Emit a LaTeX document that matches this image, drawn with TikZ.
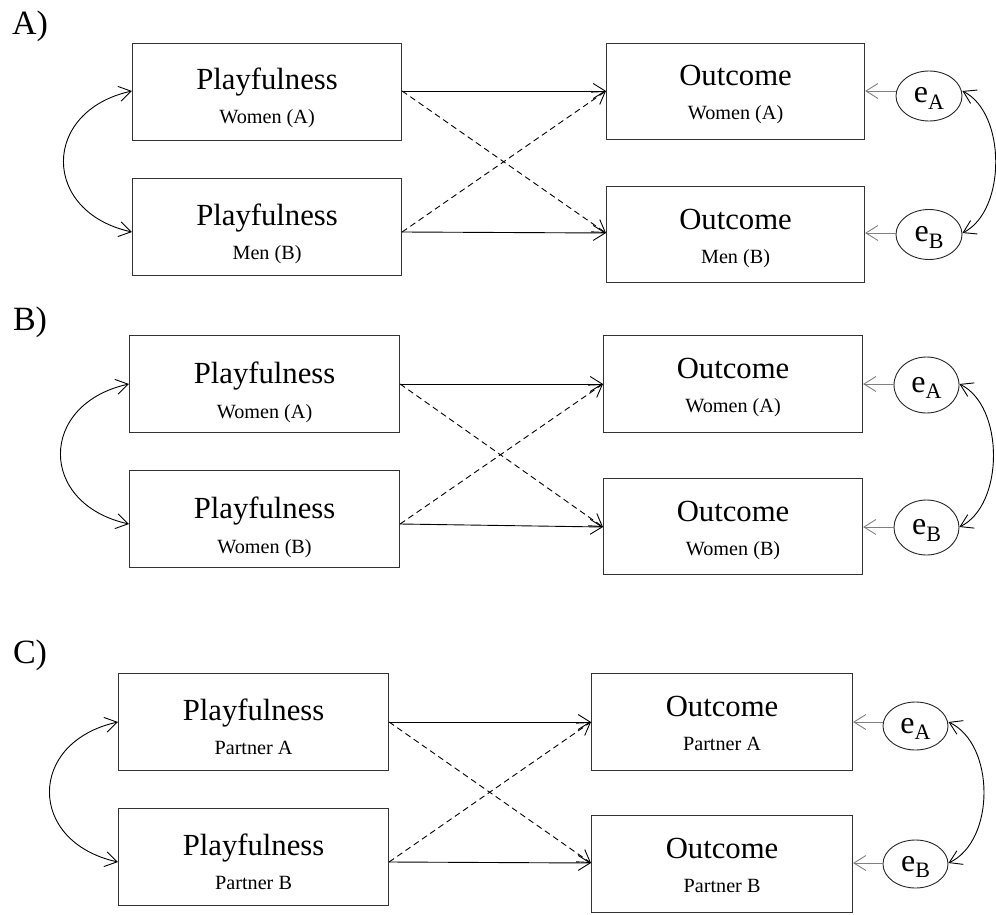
\documentclass[tikz,border=0pt]{standalone}
\usepackage{fontspec}
\setmainfont{Liberation Serif}
\usetikzlibrary{arrows.meta,shapes.geometric,calc}
\tikzset{
  boxst/.style={draw=black!80, line width=1.1pt, inner sep=0pt},
  maintext/.style={font=\fontsize{30.7}{30.7}\selectfont, inner sep=0pt},
  subtext/.style={font=\fontsize{20.2}{20.2}\selectfont, inner sep=0pt},
  ebox/.style={ellipse, draw=black!85, line width=0.9pt, inner sep=0pt,
    text height=14pt, text depth=0pt, font=\fontsize{32}{32}\selectfont},
  conn/.style={line width=0.9pt, black, -{Straight Barb[length=12pt,width=15pt]}},
  dconn/.style={conn, dash pattern=on 6pt off 4pt},
  econn/.style={conn, black!50},
  dbl/.style={line width=0.9pt, {Straight Barb[length=12pt,width=15pt]}-{Straight Barb[length=12pt,width=15pt]}},
  plabel/.style={font=\fontsize{34}{34}\selectfont, inner sep=0pt},
}
\newcommand\mkbox[9]{%
  \node[boxst, minimum width=#4pt, minimum height=#5pt, anchor=north west] (#1) at (#2,#3) {};
  \node[maintext, anchor=base] (#1m) at ([yshift=-#6pt]#1.north) {#8};
  \node[subtext, anchor=base] (#1s) at ([yshift=-#7pt]#1.north) {#9};
}
\newcommand\mkport[2]{%
  \coordinate (#1w) at ([yshift=-#2pt]#1.north west);
  \coordinate (#1e) at ([yshift=-#2pt]#1.north east);
}
\newcommand\mkconn[7]{%
  \draw[conn] (#1e) -- (#3w);
  \draw[conn] (#2e) -- (#4w);
  \draw[dconn] (#1e) -- (#4w);
  \draw[dconn] (#2e) -- (#3w);
  \coordinate (#5l) at (#3e -| #5.west);
  \coordinate (#6l) at (#4e -| #6.west);
  \coordinate (#5r) at (#3e -| #5.east);
  \coordinate (#6r) at (#4e -| #6.east);
  \draw[econn] (#5l) -- (#3e);
  \draw[econn] (#6l) -- (#4e);
  \draw[dbl] (#1w) .. controls ([xshift=-91pt,yshift=-20pt]#1w) and ([xshift=-91pt,yshift=20pt]#2w) .. (#2w);
  \draw[dbl] (#5r) .. controls ([xshift=#7pt,yshift=-22pt]#5r) and ([xshift=#7pt,yshift=22pt]#6r) .. (#6r);
}
\newcommand\esub[1]{e\raisebox{-6.5pt}{\fontsize{22}{22}\selectfont #1}}
\begin{document}
\begin{tikzpicture}[x=1pt,y=-1pt]
\useasboundingbox (0,0) rectangle (996,915);

% ---------- Panel A ----------
\node[plabel] (labA) at (30,26) {A)};
\mkbox{PA1}{132}{43}{269}{97}{47}{81}{Playfulness}{Women (A)}
\mkbox{PA2}{132}{178}{269}{97}{47}{81}{Playfulness}{Men (B)}
\mkbox{OA1}{606}{43}{258}{96}{43}{77}{Outcome}{Women (A)}
\mkbox{OA2}{606}{186}{258}{96}{43}{77}{Outcome}{Men (B)}
\node[ebox, minimum width=66pt, minimum height=50pt] (eA1) at (929,96) {\esub{A}};
\node[ebox, minimum width=66pt, minimum height=50pt] (eB1) at (929,234.5) {\esub{B}};
\mkport{PA1}{48}\mkport{PA2}{54}\mkport{OA1}{48}\mkport{OA2}{47}
\mkconn{PA1}{PA2}{OA1}{OA2}{eA1}{eB1}{44}

% ---------- Panel B ----------
\node[plabel] (labB) at (30,322) {B)};
\mkbox{PB1}{129}{335}{270}{97}{48}{83}{Playfulness}{Women (A)}
\mkbox{PB2}{129}{470}{270}{97}{48}{83}{Playfulness}{Women (B)}
\mkbox{OB1}{603}{335}{259}{97}{43}{77}{Outcome}{Women (A)}
\mkbox{OB2}{603}{478}{259}{96}{43}{77}{Outcome}{Women (B)}
\node[ebox, minimum width=65pt, minimum height=56pt] (eA2) at (926.5,385) {\esub{A}};
\node[ebox, minimum width=65pt, minimum height=55pt] (eB2) at (926.5,527.5) {\esub{B}};
\mkport{PB1}{49}\mkport{PB2}{54}\mkport{OB1}{49}\mkport{OB2}{49}
\mkconn{PB1}{PB2}{OB1}{OB2}{eA2}{eB2}{45}

% ---------- Panel C ----------
\node[plabel] (labC) at (30,655) {C)};
\mkbox{PC1}{118}{673}{270}{97}{47}{81}{Playfulness}{Partner A}
\mkbox{PC2}{118}{808}{270}{97}{47}{81}{Playfulness}{Partner B}
\mkbox{OC1}{591}{673}{261}{97}{43}{77}{Outcome}{Partner A}
\mkbox{OC2}{591}{815}{261}{97}{43}{77}{Outcome}{Partner B}
\node[ebox, minimum width=65pt, minimum height=48pt] (eA3) at (915.5,726) {\esub{A}};
\node[ebox, minimum width=65pt, minimum height=48pt] (eB3) at (915.5,864) {\esub{B}};
\mkport{PC1}{49}\mkport{PC2}{54}\mkport{OC1}{49}\mkport{OC2}{48}
\mkconn{PC1}{PC2}{OC1}{OC2}{eA3}{eB3}{47}
\end{tikzpicture}
\end{document}
